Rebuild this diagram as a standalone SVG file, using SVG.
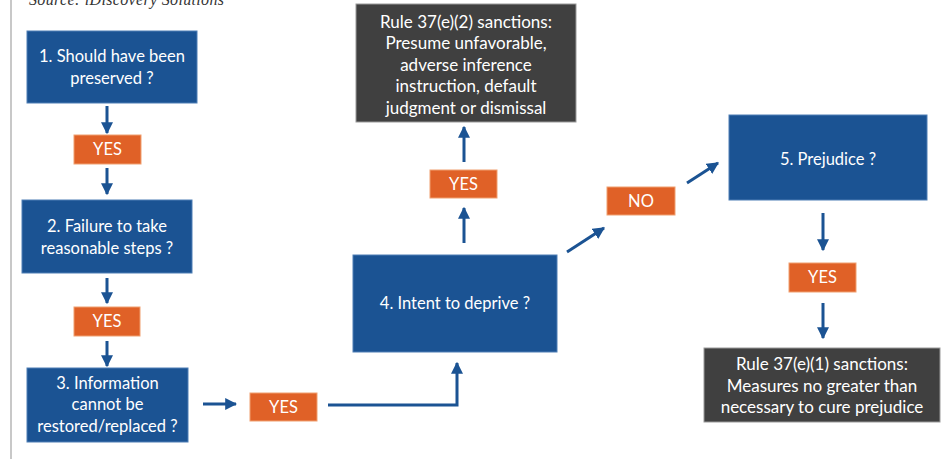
<svg xmlns="http://www.w3.org/2000/svg" width="951" height="459" viewBox="0 0 951 459">
<defs>
<marker id="ah" viewBox="0 0 10 10" refX="9" refY="5" markerWidth="4" markerHeight="4" markerUnits="strokeWidth" orient="auto">
<path d="M0,0 L10,5 L0,10 z" fill="#1b5393"/>
</marker>
<style>
.blue{fill:#1b5393;stroke:#4f7fb5;stroke-width:1}
.orange{fill:#e06127;stroke:#f0a070;stroke-width:1}
.dark{fill:#404040;stroke:#9a9a9a;stroke-width:1}
.t{font-family:Lato,"Open Sans","Liberation Sans",sans-serif;font-size:16.5px;fill:#ffffff;text-anchor:middle}
.d{font-size:17px}
.c{fill:none;stroke:#1b5393;stroke-width:3;marker-end:url(#ah)}
</style>
</defs>
<rect width="951" height="459" fill="#ffffff"/>
<line x1="11" y1="0" x2="11" y2="459" stroke="#c8c8c8" stroke-width="2"/>
<text x="29" y="5" font-family="Liberation Serif,serif" font-style="italic" font-size="16" fill="#333333" textLength="195">Source: iDiscovery Solutions</text>

<g id="connectors">
<line class="c" x1="107" y1="106" x2="107" y2="133"/>
<line class="c" x1="107" y1="168" x2="107" y2="194"/>
<line class="c" x1="107" y1="278" x2="107" y2="303"/>
<line class="c" x1="107" y1="341" x2="107" y2="366"/>
<line class="c" x1="203" y1="404" x2="236" y2="404"/>
<polyline class="c" points="328,405 457,405 457,363"/>
<line class="c" x1="464" y1="243" x2="464" y2="208"/>
<line class="c" x1="464" y1="162" x2="464" y2="127"/>
<line class="c" x1="567" y1="252" x2="604" y2="228"/>
<line class="c" x1="687" y1="183" x2="718" y2="163"/>
<line class="c" x1="823" y1="213" x2="823" y2="250"/>
<line class="c" x1="823" y1="303" x2="823" y2="338"/>
</g>

<g id="n1"><rect class="blue" x="27" y="31" width="170" height="72"/>
<text class="t" x="112" y="62">1. Should have been</text><text class="t" x="112" y="84">preserved ?</text></g>
<g id="y1"><rect class="orange" x="74" y="135" width="67" height="29"/><text class="t" x="107.5" y="155">YES</text></g>
<g id="n2"><rect class="blue" x="22" y="200" width="170" height="73"/>
<text class="t" x="107" y="232">2. Failure to take</text><text class="t" x="107" y="254">reasonable steps ?</text></g>
<g id="y2"><rect class="orange" x="74" y="307" width="66" height="29"/><text class="t" x="107" y="327">YES</text></g>
<g id="n3"><rect class="blue" x="27" y="368" width="161" height="74"/>
<text class="t" x="107.5" y="389">3. Information</text><text class="t" x="107.5" y="410">cannot be</text><text class="t" x="107.5" y="432">restored/replaced ?</text></g>
<g id="y3"><rect class="orange" x="250" y="393" width="67" height="28"/><text class="t" x="283.5" y="413">YES</text></g>
<g id="n4"><rect class="blue" x="353" y="255" width="204" height="97"/>
<text class="t" x="455" y="309">4. Intent to deprive ?</text></g>
<g id="y4"><rect class="orange" x="430" y="170" width="67" height="28"/><text class="t" x="463.5" y="190">YES</text></g>
<g id="s2"><rect class="dark" x="356" y="4" width="220" height="118"/>
<text class="t d" x="466" y="28">Rule 37(e)(2) sanctions:</text><text class="t d" x="466" y="49">Presume unfavorable,</text><text class="t d" x="466" y="71">adverse inference</text><text class="t d" x="466" y="92">instruction, default</text><text class="t d" x="466" y="114">judgment or dismissal</text></g>
<g id="no"><rect class="orange" x="607" y="187" width="68" height="28"/><text class="t" x="641" y="207">NO</text></g>
<g id="n5"><rect class="blue" x="729" y="115" width="198" height="85"/>
<text class="t" x="828" y="165">5. Prejudice ?</text></g>
<g id="y5"><rect class="orange" x="789" y="263" width="67" height="29"/><text class="t" x="822.5" y="283">YES</text></g>
<g id="s1"><rect class="dark" x="704" y="348" width="236" height="74"/>
<text class="t d" x="822" y="370">Rule 37(e)(1) sanctions:</text><text class="t d" x="822" y="392">Measures no greater than</text><text class="t d" x="822" y="413">necessary to cure prejudice</text></g>
</svg>
